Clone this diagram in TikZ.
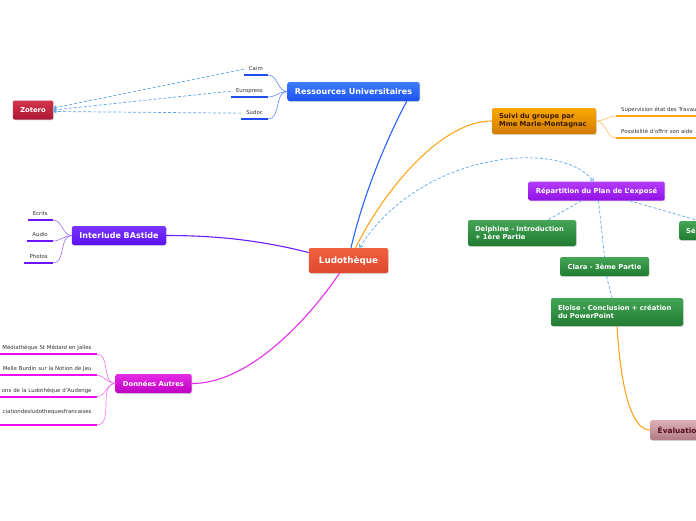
\documentclass[tikz,border=0pt]{standalone}
\usepackage{fontspec}
\setmainfont{DejaVu Sans}
\usetikzlibrary{arrows.meta,shadows}
\definecolor{ludotop}{HTML}{F0603F}
\definecolor{ludobot}{HTML}{E04A2E}
\definecolor{restop}{HTML}{3F7DFF}
\definecolor{resbot}{HTML}{1A52F2}
\definecolor{zottop}{HTML}{D3344C}
\definecolor{zotbot}{HTML}{AC1A33}
\definecolor{suivitop}{HTML}{F9A806}
\definecolor{suivibot}{HTML}{D47C00}
\definecolor{suivitext}{HTML}{3A1D00}
\definecolor{reptop}{HTML}{B43CFF}
\definecolor{repbot}{HTML}{9212E6}
\definecolor{greentop}{HTML}{45A556}
\definecolor{greenbot}{HTML}{1F7B31}
\definecolor{intertop}{HTML}{7A35FF}
\definecolor{interbot}{HTML}{5A12F2}
\definecolor{dontop}{HTML}{E52AE5}
\definecolor{donbot}{HTML}{C000C4}
\definecolor{evaltop}{HTML}{DDB0B8}
\definecolor{evalbot}{HTML}{B27A85}
\definecolor{evaltext}{HTML}{5A0C20}
\definecolor{labeltext}{HTML}{333333}
\definecolor{blueline}{HTML}{2A62FF}
\definecolor{orangeline}{HTML}{FFA41F}
\definecolor{purpleline}{HTML}{6B1CFF}
\definecolor{magentaline}{HTML}{E62EEA}
\definecolor{dashline}{HTML}{5CA4EC}
\definecolor{leafblue}{HTML}{1F4FF0}
\definecolor{leafpurple}{HTML}{6A14FF}
\definecolor{leafmagenta}{HTML}{F00CF0}
\definecolor{leaforange}{HTML}{FFA010}
\definecolor{resleaf}{HTML}{5E86FF}
\definecolor{interleaf}{HTML}{9B6BFF}
\definecolor{donleaf}{HTML}{F26CF2}
\definecolor{suivileaf}{HTML}{FFBE55}

\begin{document}
\begin{tikzpicture}[x=1pt, y=-1pt,
  topic/.style={rectangle, rounded corners=2pt, minimum height=19pt,
    inner xsep=7.5pt, inner ysep=2pt, text=white,
    font=\fontsize{6.8}{8.2}\selectfont\bfseries,
    drop shadow={opacity=.3, shadow xshift=.8pt, shadow yshift=-.9pt}},
  leaf/.style={inner xsep=5pt, inner ysep=3pt, text height=4pt, text depth=1.3pt,
    text=labeltext, font=\fontsize{5.4}{6.5}\selectfont,
    append after command={(\tikzlastnode.south west) edge[draw=#1, line width=1.8pt] (\tikzlastnode.south east)}},
  branch/.style={draw=#1, line width=.6pt},
  mainlink/.style={draw=#1, line width=1.1pt},
  dashlink/.style={draw=dashline, line width=.7pt, dash pattern=on 3pt off 2pt},
  >={Straight Barb[length=2.5pt, width=4pt]}
]
  \useasboundingbox (0,0) rectangle (696,520);
  \clip (0,0) rectangle (696,520);

  % centre
  \node[topic, top color=ludotop, bottom color=ludobot, inner xsep=10pt, minimum height=25pt,
    font=\fontsize{8.8}{10}\selectfont\bfseries] (ludo) at (348.5,260.5) {Ludothèque};

  % ressources
  \node[topic, top color=restop, bottom color=resbot, font=\fontsize{8}{9.6}\selectfont\bfseries]
    (res) at (353.5,91.5) {Ressources Universitaires};
  \node[leaf=leafblue, anchor=south east] (caim) at (268,75) {Caim};
  \node[leaf=leafblue, anchor=south east] (europress) at (268,97) {Europress};
  \node[leaf=leafblue, anchor=south east] (sudoc) at (268,119) {Sudoc};
  \node[topic, top color=zottop, bottom color=zotbot] (zotero) at (33,110) {Zotero};

  % suivi
  \node[topic, top color=suivitop, bottom color=suivibot, text=suivitext, text width=90pt,
    align=left, inner xsep=7pt, minimum height=26pt] (suivi) at (544,121)
    {Suivi du groupe par\\Mme Marie-Montagnac};
  \node[leaf=leaforange, anchor=south west, text width=90pt, align=left]
    (supervision) at (616,116) {Supervision état des Travaux};
  \node[leaf=leaforange, anchor=south west, text width=90pt, align=left]
    (aide) at (616,138) {Possibilité d'offrir son aide};

  % repartition
  \node[topic, top color=reptop, bottom color=repbot] (rep) at (596.5,191) {Répartition du Plan de L'exposé};
  \node[topic, top color=greentop, bottom color=greenbot, text width=94pt, align=left,
    inner xsep=7pt, minimum height=26pt] (delphine) at (522,233) {Delphine - Introduction\\+ 1ère Partie};
  \node[topic, top color=greentop, bottom color=greenbot, anchor=west, text width=50pt,
    align=left, inner xsep=7pt] (se) at (679,230.5) {Sé};
  \node[topic, top color=greentop, bottom color=greenbot] (clara) at (604.5,266.5) {Clara - 3ème Partie};
  \node[topic, top color=greentop, bottom color=greenbot, text width=118pt, align=left,
    inner xsep=7pt, minimum height=28pt] (eloise) at (617,312) {Eloise - Conclusion + création\\du PowerPoint};
  \node[topic, top color=evaltop, bottom color=evalbot, text=evaltext, anchor=west, minimum height=20pt,
    font=\fontsize{7.4}{9}\selectfont\bfseries] (eval) at (650,430) {Évaluation};

  % interlude
  \node[topic, top color=intertop, bottom color=interbot, font=\fontsize{8}{9.6}\selectfont\bfseries]
    (inter) at (119,235.5) {Interlude BAstide};
  \node[leaf=leafpurple, anchor=south east] (ecrits) at (53,220) {Ecrits};
  \node[leaf=leafpurple, anchor=south east] (audio) at (53,241) {Audio};
  \node[leaf=leafpurple, anchor=south east] (photos) at (53,263) {Photos};

  % donnees
  \node[topic, top color=dontop, bottom color=donbot] (donnees) at (153.5,383.5) {Données Autres};
  \node[leaf=leafmagenta, anchor=south east, text width=90pt, align=right]
    (mediatheque) at (96.7,354) {Médiathèque St Médard en Jalles};
  \node[leaf=leafmagenta, anchor=south east, text width=90pt, align=right]
    (burdin) at (96.7,375.3) {Melle Burdin sur la Notion de Jeu};
  \node[leaf=leafmagenta, anchor=south east, text width=90pt, align=right]
    (audenge) at (96.7,396.7) {ons de la Ludothèque d'Audenge};
  \node[leaf=leafmagenta, anchor=south east, text width=90pt, align=right, text depth=8.3pt]
    (association) at (96.7,425) {ciationdesludothequesfrancaises};

  % links
  \draw[mainlink=blueline] ([xshift=2.5pt]ludo.north) .. controls +(14,-60) and +(-16,30) .. ([xshift=-13pt]res.south east);
  \draw[mainlink=orangeline] ([xshift=7pt]ludo.north) .. controls +(30,-60) and +(-50,0) .. (suivi.west);
  \draw[dashlink, <->] ([xshift=11pt]ludo.north) .. controls +(60,-96) and +(-33,-43) .. ([xshift=-3pt]rep.north);
  \draw[mainlink=purpleline] (inter.east) .. controls +(60,0) and +(-40,-10) .. ([yshift=8pt]ludo.west);
  \draw[mainlink=magentaline] ([xshift=-9pt]ludo.south) .. controls +(-20,30) and +(65,0) .. (donnees.east);
  \draw[mainlink=orangeline] (eloise.south) .. controls +(4,65) and +(-18,0) .. (eval.west);

  \draw[dashlink] ([xshift=-15pt]rep.south) -- ([xshift=-28pt]delphine.north east);
  \draw[dashlink] ([xshift=2pt]rep.south) -- (clara.north);
  \draw[dashlink] ([xshift=33pt]rep.south) -- ([xshift=20pt]se.north west);
  \draw[dashlink] ([xshift=2pt]clara.south) -- ([xshift=-5pt]eloise.north);

  \draw[dashlink, ->] (caim.west) -- ([yshift=2pt]zotero.east);
  \draw[dashlink, ->] (europress.west) -- (zotero.east);
  \draw[dashlink, ->] (sudoc.west) -- ([yshift=-1.5pt]zotero.east);

  \foreach \leafname in {caim,europress,sudoc}
    \draw[branch=resleaf] (res.west) to[out=180,in=0] (\leafname.south east);
  \foreach \leafname in {supervision,aide}
    \draw[branch=suivileaf] (suivi.east) to[out=0,in=180] (\leafname.south west);
  \foreach \leafname in {ecrits,audio,photos}
    \draw[branch=interleaf] (inter.west) to[out=180,in=0] (\leafname.south east);
  \foreach \leafname in {mediatheque,burdin,audenge,association}
    \draw[branch=donleaf] (donnees.west) to[out=180,in=0] (\leafname.south east);
\end{tikzpicture}
\end{document}
